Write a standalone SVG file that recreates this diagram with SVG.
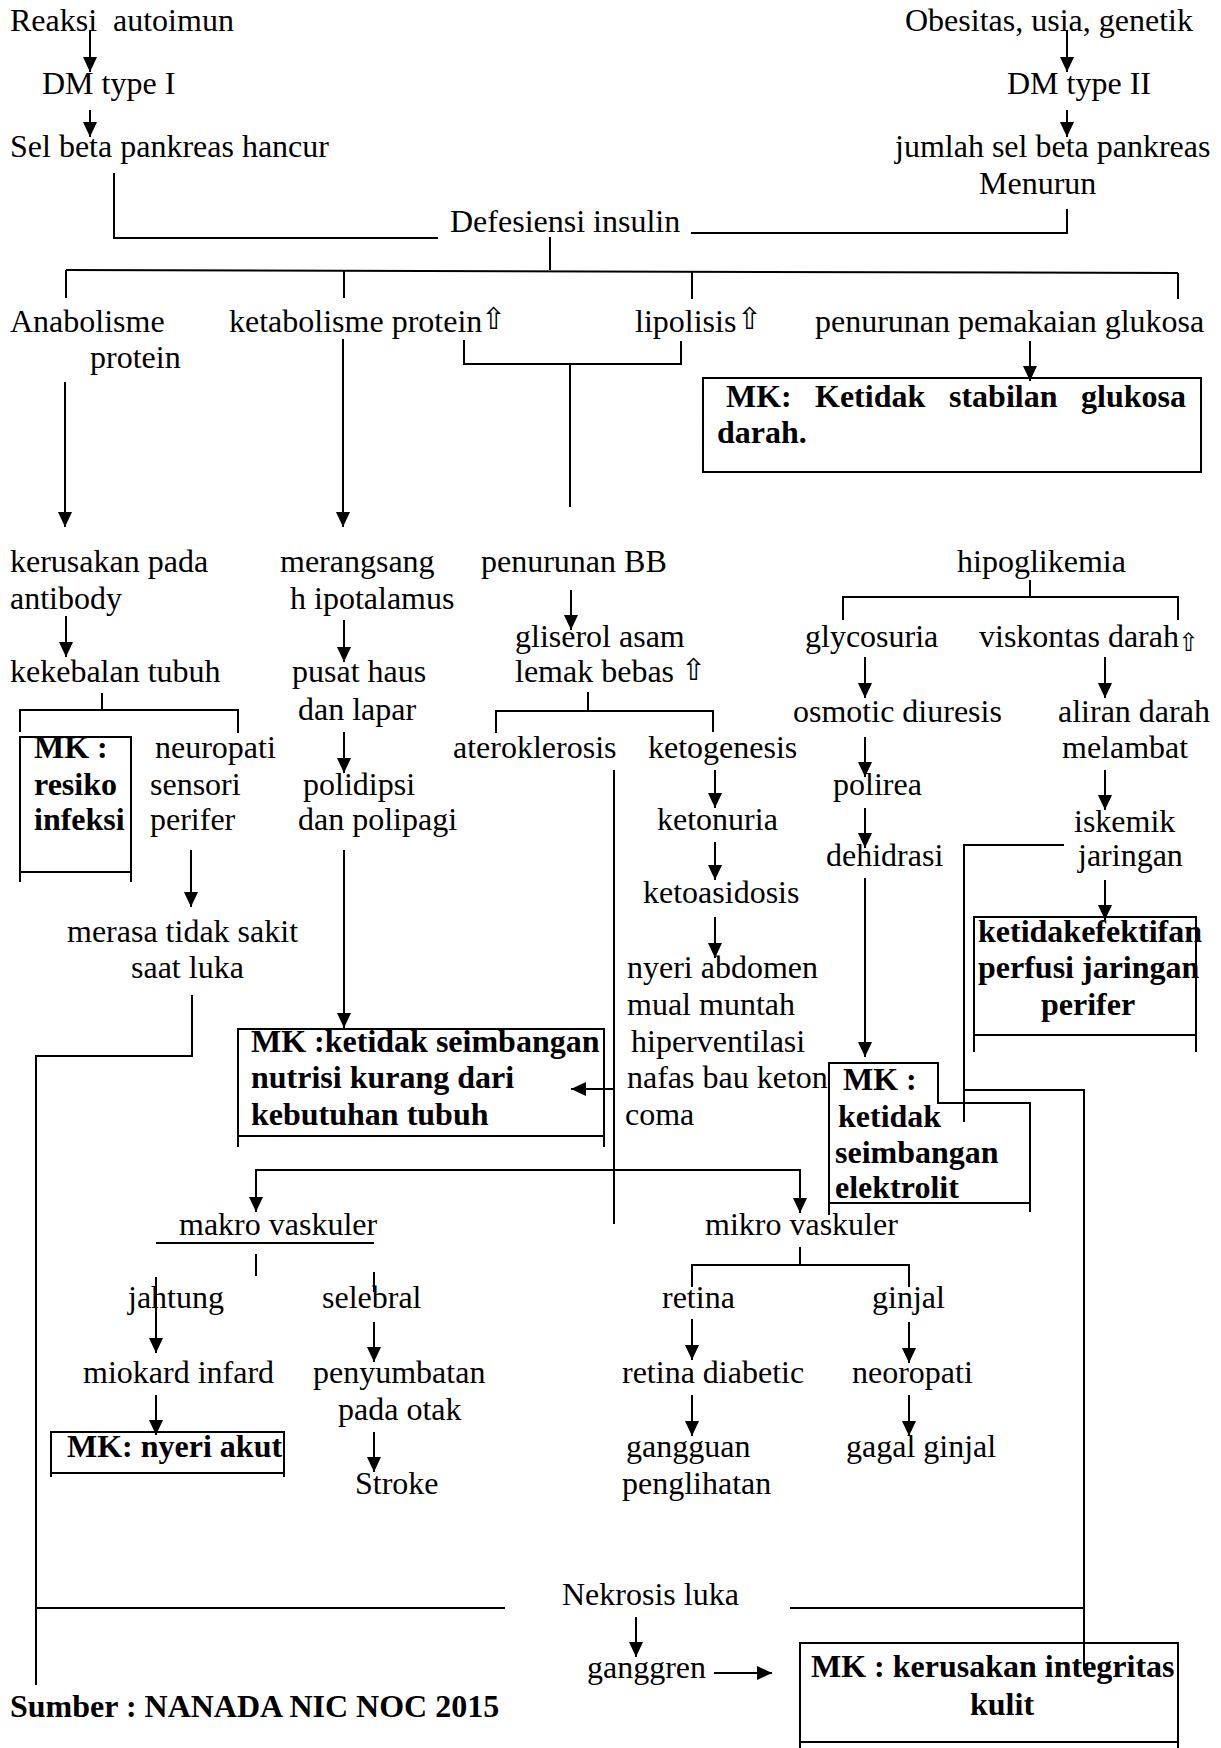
<svg xmlns="http://www.w3.org/2000/svg" width="1221" height="1748" viewBox="0 0 1221 1748">
<style>
.t{font-family:"Liberation Serif","Times New Roman",serif;font-size:32px;fill:#000}
.b{font-weight:bold}
.s{font-family:"DejaVu Sans",sans-serif;font-size:30px}
.c{stroke:#000;stroke-width:2;fill:none}
.a{marker-end:url(#ah)}
.bx{stroke:#000;stroke-width:2;fill:none}
</style>
<defs>
<marker id="ah" markerUnits="userSpaceOnUse" markerWidth="16" markerHeight="16" refX="15" refY="8" orient="auto"><path d="M0,1 L15,8 L0,15 z" fill="#000"/></marker>
</defs>
<rect width="1221" height="1748" fill="#fff"/>
<g id="connectors">
<path class="c a" d="M90,30 V72"/>
<path class="c a" d="M90,110 V137"/>
<path class="c a" d="M1067,30 V72"/>
<path class="c a" d="M1067,110 V137"/>
<path class="c" d="M114,173 V238 H438"/>
<path class="c" d="M691,233 H1067 V209"/>
<path class="c" d="M550,237 V270"/>
<path class="c" d="M66,270 L1178,273"/>
<path class="c" d="M66,270 V298 M344,271 V298 M692,272 V299 M1178,273 V299"/>
<path class="c a" d="M65,382 V527"/>
<path class="c a" d="M343,339 V527"/>
<path class="c" d="M464,340 V364 H681 V341"/>
<path class="c" d="M570,364 V507"/>
<path class="c a" d="M1030,341 V381"/>
<path class="c a" d="M66,616 V657"/>
<path class="c" d="M102,693 V710 M20,732 V710 H238 V733"/>
<path class="c a" d="M344,620 V662"/>
<path class="c a" d="M344,732 V773"/>
<path class="c a" d="M191,850 V907"/>
<path class="c a" d="M344,850 V1028"/>
<path class="c" d="M192,995 V1056 H36 V1685"/>
<path class="c a" d="M571,590 V630"/>
<path class="c" d="M588,692 V711 M496,733 V711 H713 V732"/>
<path class="c" d="M614,770 V1224"/>
<path class="c a" d="M614,1089 H571"/>
<path class="c a" d="M715,770 V808"/>
<path class="c a" d="M715,842 V880"/>
<path class="c a" d="M715,917 V958"/>
<path class="c" d="M1030,580 V597 M843,620 V597 H1178 V620"/>
<path class="c a" d="M865,657 V698"/>
<path class="c a" d="M865,737 V777"/>
<path class="c a" d="M865,808 V848"/>
<path class="c a" d="M865,878 V1057"/>
<path class="c a" d="M1105,657 V698"/>
<path class="c a" d="M1105,770 V810"/>
<path class="c a" d="M1105,880 V920"/>
<path class="c" d="M1064,845 H964 V1122"/>
<path class="c" d="M964,1090 H1084 V1670"/>
<path class="c a" d="M614,1170 H256 V1212"/>
<path class="c a" d="M614,1170 H800 V1213"/>
<path class="c" d="M256,1254 V1276"/>
<path class="c a" d="M156,1277 V1353"/>
<path class="c" d="M374,1272 V1292"/>
<path class="c a" d="M374,1322 V1362"/>
<path class="c a" d="M156,1395 V1435"/>
<path class="c a" d="M374,1432 V1472"/>
<path class="c" d="M800,1247 V1265 M692,1287 V1265 H909 V1287"/>
<path class="c a" d="M692,1319 V1360"/>
<path class="c a" d="M692,1395 V1436"/>
<path class="c a" d="M909,1322 V1363"/>
<path class="c a" d="M909,1395 V1436"/>
<path class="c" d="M36,1608 H505 M790,1608 H1084"/>
<path class="c a" d="M636,1617 V1657"/>
<path class="c a" d="M714,1673 H772"/>
</g>
<g id="n_reaksi"><text class="t" y="31"><tspan x="10">Reaksi</tspan><tspan x="113">autoimun</tspan></text></g>
<g id="n_dm1"><text class="t" x="42" y="94">DM type I</text></g>
<g id="n_sel"><text class="t" x="10" y="157">Sel beta pankreas hancur</text></g>
<g id="n_obes"><text class="t" x="905" y="31">Obesitas, usia, genetik</text></g>
<g id="n_dm2"><text class="t" x="1007" y="94">DM type II</text></g>
<g id="n_jumlah"><text class="t" x="895" y="157">jumlah sel beta pankreas</text><text class="t" x="979" y="194">Menurun</text></g>
<g id="n_def"><text class="t" x="450" y="232">Defesiensi insulin</text></g>
<g id="n_anab"><text class="t" x="10" y="332">Anabolisme</text><text class="t" x="90" y="368">protein</text></g>
<g id="n_ketab"><text class="t" x="229" y="332">ketabolisme protein</text><text class="s" x="481" y="329">⇧</text></g>
<g id="n_lipo"><text class="t" x="635" y="332">lipolisis</text><text class="s" x="737" y="329">⇧</text></g>
<g id="n_penurunan"><text class="t" x="815" y="332">penurunan pemakaian glukosa</text></g>
<g id="n_mk_glukosa"><rect class="bx" x="703" y="378" width="498" height="94"/><text class="t b" y="407"><tspan x="726">MK:</tspan><tspan x="815">Ketidak</tspan><tspan x="949">stabilan</tspan><tspan x="1081">glukosa</tspan></text><text class="t b" x="717" y="443">darah.</text></g>
<g id="n_kerusakan"><text class="t" x="10" y="572">kerusakan pada</text><text class="t" x="10" y="609">antibody</text></g>
<g id="n_kekebalan"><text class="t" x="10" y="682">kekebalan tubuh</text></g>
<g id="n_mk_infeksi"><path class="bx" d="M20,882 V737 H131 V882 M20,872 H131"/><text class="t b" x="34" y="758">MK :</text><text class="t b" x="34" y="795">resiko</text><text class="t b" x="34" y="830">infeksi</text></g>
<g id="n_neuropati"><text class="t" x="155" y="758">neuropati</text><text class="t" x="150" y="795">sensori</text><text class="t" x="150" y="830">perifer</text></g>
<g id="n_merasa"><text class="t" x="67" y="942">merasa tidak sakit</text><text class="t" x="131" y="978">saat luka</text></g>
<g id="n_merangsang"><text class="t" x="280" y="572">merangsang</text><text class="t" x="290" y="609">h ipotalamus</text></g>
<g id="n_pusat"><text class="t" x="292" y="682">pusat haus</text><text class="t" x="298" y="720">dan lapar</text></g>
<g id="n_poli"><text class="t" x="303" y="795">polidipsi</text><text class="t" x="298" y="830">dan polipagi</text></g>
<g id="n_mk_nutrisi"><path class="bx" d="M238,1147 V1029 H604 V1147 M238,1136 H604"/><text class="t b" x="251" y="1052">MK :ketidak seimbangan</text><text class="t b" x="251" y="1088">nutrisi kurang dari</text><text class="t b" x="251" y="1125">kebutuhan tubuh</text></g>
<g id="n_penbb"><text class="t" x="481" y="572">penurunan BB</text></g>
<g id="n_gliserol"><text class="t" x="515" y="647">gliserol asam</text><text class="t" x="515" y="682">lemak bebas</text><text class="s" x="681" y="680">⇧</text></g>
<g id="n_atero"><text class="t" x="453" y="758">ateroklerosis</text></g>
<g id="n_ketogen"><text class="t" x="648" y="758">ketogenesis</text></g>
<g id="n_ketonuria"><text class="t" x="657" y="830">ketonuria</text></g>
<g id="n_ketoasid"><text class="t" x="643" y="903">ketoasidosis</text></g>
<g id="n_nyeri"><text class="t" x="627" y="978">nyeri abdomen</text><text class="t" x="627" y="1015">mual muntah</text><text class="t" x="631" y="1052">hiperventilasi</text><text class="t" x="627" y="1088">nafas bau keton</text><text class="t" x="625" y="1125">coma</text></g>
<g id="n_hipo"><text class="t" x="957" y="572">hipoglikemia</text></g>
<g id="n_glyco"><text class="t" x="805" y="647">glycosuria</text></g>
<g id="n_visk"><text class="t" x="979" y="647">viskontas darah</text><text class="s" x="1178" y="651" style="font-size:25px">⇧</text></g>
<g id="n_osmotic"><text class="t" x="793" y="722">osmotic diuresis</text></g>
<g id="n_aliran"><text class="t" x="1058" y="722">aliran darah</text><text class="t" x="1062" y="758">melambat</text></g>
<g id="n_polirea"><text class="t" x="833" y="795">polirea</text></g>
<g id="n_iskemik"><text class="t" x="1074" y="832">iskemik</text><text class="t" x="1078" y="866">jaringan</text></g>
<g id="n_dehid"><text class="t" x="826" y="866">dehidrasi</text></g>
<g id="n_mk_perfusi"><path class="bx" d="M974,1052 V917 H1196 V1052 M974,1035 H1196"/><text class="t b" x="978" y="942">ketidakefektifan</text><text class="t b" x="978" y="978">perfusi jaringan</text><text class="t b" x="1041" y="1015">perifer</text></g>
<g id="n_mk_elektrolit"><path class="bx" d="M829,1215 V1063 H938 V1103 H1030 V1212 M829,1203 H1030"/><text class="t b" x="843" y="1090">MK :</text><text class="t b" x="838" y="1127">ketidak</text><text class="t b" x="835" y="1163">seimbangan</text><text class="t b" x="835" y="1198">elektrolit</text></g>
<g id="n_makro"><text class="t" x="179" y="1235">makro vaskuler</text><path class="c" d="M156,1243 H374"/></g>
<g id="n_mikro"><text class="t" x="705" y="1235">mikro vaskuler</text></g>
<g id="n_jantung"><text class="t" x="128" y="1308">jahtung</text></g>
<g id="n_selebral"><text class="t" x="322" y="1308">selebral</text></g>
<g id="n_miokard"><text class="t" x="83" y="1383">miokard infard</text></g>
<g id="n_penyumbatan"><text class="t" x="313" y="1383">penyumbatan</text><text class="t" x="338" y="1420">pada otak</text></g>
<g id="n_mk_nyeri"><path class="bx" d="M51,1477 V1432 H284 V1477 M51,1473 H284"/><text class="t b" x="67" y="1457">MK: nyeri akut</text></g>
<g id="n_stroke"><text class="t" x="355" y="1494">Stroke</text></g>
<g id="n_retina"><text class="t" x="662" y="1308">retina</text></g>
<g id="n_ginjal"><text class="t" x="872" y="1308">ginjal</text></g>
<g id="n_retdiab"><text class="t" x="622" y="1383">retina diabetic</text></g>
<g id="n_neoro"><text class="t" x="852" y="1383">neoropati</text></g>
<g id="n_gangguan"><text class="t" x="626" y="1457">gangguan</text><text class="t" x="622" y="1494">penglihatan</text></g>
<g id="n_gagal"><text class="t" x="846" y="1457">gagal ginjal</text></g>
<g id="n_nekrosis"><text class="t" x="562" y="1605">Nekrosis luka</text></g>
<g id="n_ganggren"><text class="t" x="587" y="1678">ganggren</text></g>
<g id="n_mk_kulit"><path class="bx" d="M800,1750 V1643 H1178 V1750 M800,1742 H1178"/><text class="t b" x="811" y="1677">MK : kerusakan integritas</text><text class="t b" x="970" y="1715">kulit</text></g>
<g id="n_sumber"><text class="t b" x="10" y="1717">Sumber : NANADA NIC NOC 2015</text></g>
</svg>
